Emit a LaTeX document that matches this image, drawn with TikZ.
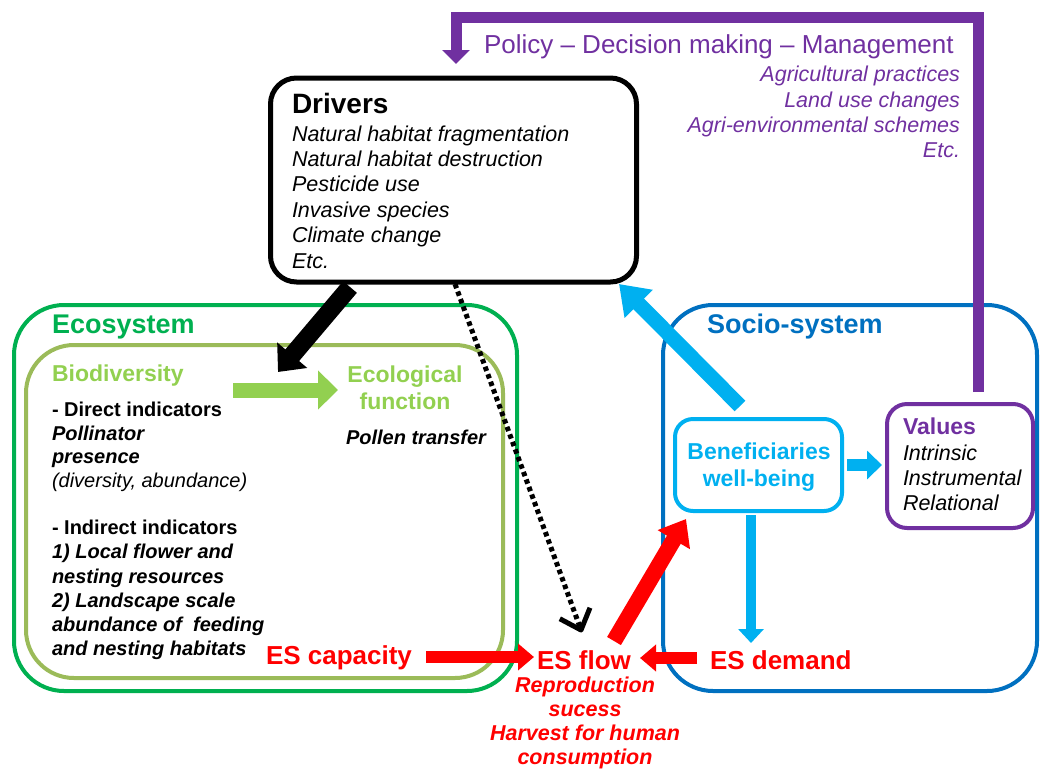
\documentclass[tikz,border=0pt]{standalone}
\usepackage{fontspec}
\setmainfont{Liberation Sans}
\usetikzlibrary{arrows.meta,calc}
\definecolor{cpurple}{HTML}{7030A0}
\definecolor{cgreen}{HTML}{00B050}
\definecolor{colive}{HTML}{9BBB59}
\definecolor{clgreen}{HTML}{92D050}
\definecolor{cblue}{HTML}{0070C0}
\definecolor{clblue}{HTML}{00B0F0}
\definecolor{cred}{HTML}{FF0000}
\newcommand{\fsz}[2]{\fontsize{#1}{#2}\selectfont}
\tikzset{
  lbl/.style={inner sep=0pt, outer sep=0pt},
  boxnode/.style={draw, rounded corners=#1, inner sep=0pt, outer sep=0pt},
  blockarrow/.style n args={3}{line width=#1, -{Triangle[length=#2, width=#3]}},
}
\begin{document}
\begin{tikzpicture}[x=1pt, y=-1pt]
\useasboundingbox (0,0) rectangle (1040,771);

% ---- boxes ----
\node[boxnode=26pt, line width=5pt, draw=black, minimum width=366pt, minimum height=204pt] (drv) at (453.5,180) {};
\node[boxnode=50pt, line width=4pt, draw=cgreen, minimum width=503pt, minimum height=386pt] (eco) at (265.5,498) {};
\node[boxnode=48pt, line width=4pt, draw=colive, minimum width=477pt, minimum height=333pt] (bio) at (264.5,511.5) {};
\node[boxnode=50pt, line width=4pt, draw=cblue, minimum width=374pt, minimum height=386pt] (soc) at (850,498) {};
\node[boxnode=18pt, line width=4pt, draw=clblue, minimum width=167pt, minimum height=92pt] (ben) at (758.5,465) {};
\node[boxnode=20pt, line width=4pt, draw=cpurple, minimum width=146pt, minimum height=124pt] (val) at (960,466) {};

% ---- texts ----
\node[lbl, anchor=west, text=cpurple, font=\fsz{26}{30}] (pol) at (484,47) {Policy – Decision making – Management};
\node[lbl, anchor=east, align=right, text=cpurple, font=\fsz{21.5}{25.3}\itshape] (polist) at (960,112)
  {Agricultural practices\\Land use changes\\Agri-environmental schemes\\Etc.};

\node[lbl, anchor=west, font=\fsz{28}{32}\bfseries] (drvt) at (292,103) {Drivers};
\node[lbl, anchor=west, align=left, font=\fsz{21.5}{25.4}\itshape] (drvl) at (292,197)
  {Natural habitat fragmentation\\Natural habitat destruction\\Pesticide use\\Invasive species\\Climate change\\Etc.};

\node[lbl, anchor=west, text=cgreen, font=\fsz{27}{30}\bfseries] (ecot) at (52,327) {Ecosystem};
\node[lbl, anchor=west, text=clgreen, font=\fsz{23}{27}\bfseries] (biot) at (52,376) {Biodiversity};
\node[lbl, align=center, text=clgreen, font=\fsz{23}{27}\bfseries] (ecf) at (405,388) {Ecological\\function};
\node[lbl, anchor=west, font=\fsz{20}{24}\bfseries\itshape] (pollen) at (346,437) {Pollen transfer};
\node[lbl, anchor=west, align=left, font=\fsz{20}{23.5}] (direct) at (52,447)
  {\textbf{- Direct indicators}\\\textbf{\textit{Pollinator}}\\\textbf{\textit{presence}}\\\textit{(diversity, abundance)}};
\node[lbl, anchor=west, align=left, font=\fsz{20}{24.2}] (indirect) at (52,590)
  {\textbf{- Indirect indicators}\\\textbf{\textit{1) Local flower and}}\\\textbf{\textit{nesting resources}}\\\textbf{\textit{2) Landscape scale}}\\\textbf{\textit{abundance of \ feeding}}\\\textbf{\textit{and nesting habitats}}};

\node[lbl, anchor=west, text=cred, font=\fsz{26}{30}\bfseries] (cap) at (266,658) {ES capacity};
\node[lbl, anchor=west, text=cred, font=\fsz{26}{30}\bfseries] (flow) at (537,660) {ES flow};
\node[lbl, anchor=west, text=cred, font=\fsz{26}{30}\bfseries] (dem) at (710,660) {ES demand};
\node[lbl, align=center, text=cred, font=\fsz{21.5}{24.2}\bfseries\itshape] (flowl) at (585,723)
  {Reproduction\\sucess\\Harvest for human\\consumption};

\node[lbl, anchor=west, text=cblue, font=\fsz{27}{30}\bfseries] (soct) at (707,327) {Socio-system};
\node[lbl, align=center, text=clblue, font=\fsz{23}{27}\bfseries] (bent) at (759,467) {Beneficiaries\\well-being};
\node[lbl, anchor=west, text=cpurple, font=\fsz{23}{27}\bfseries] (valt) at (903,426) {Values};
\node[lbl, anchor=west, align=left, font=\fsz{21.5}{25}\itshape] (vall) at (903,478) {Intrinsic\\Instrumental\\Relational};

% ---- connectors ----
\coordinate (pA) at (978,392);
\coordinate (pB) at (456,17);
\coordinate (pC) at (456,64);
\draw[cpurple, line width=11pt, line join=miter, -{Triangle[length=14pt, width=27pt]}] (pA) |- (pB) -- (pC);

\coordinate (bk1) at (350,287);
\coordinate (bk2) at (278,372);
\draw[black, blockarrow={18pt}{22pt}{38pt}] (bk1) -- (bk2);

\coordinate (gr1) at (233,390);
\coordinate (gr2) at (338,390);
\draw[clgreen, blockarrow={15pt}{20pt}{38pt}] (gr1) -- (gr2);

\coordinate (dt1) at (455,284);
\coordinate (dt2) at (581,630);
\coordinate (ah1) at ($(dt2)!24pt!42:(dt1)$);
\coordinate (ah2) at ($(dt2)!24pt!-42:(dt1)$);
\draw[black, line width=5pt, dash pattern=on 4.5pt off 3.5pt] (dt1) -- (dt2);
\draw[black, line width=5pt, line join=round, line cap=butt] (ah1) -- (dt2) -- (ah2);

\coordinate (rc1) at (426,657);
\coordinate (rc2) at (534,657);
\draw[cred, blockarrow={12pt}{16pt}{26pt}] (rc1) -- (rc2);

\coordinate (rd1) at (697,658);
\coordinate (rd2) at (640,658);
\draw[cred, blockarrow={12pt}{16pt}{26pt}] (rd1) -- (rd2);

\coordinate (rf1) at (614,641);
\coordinate (rf2) at (686,519);
\draw[cred, blockarrow={16pt}{24pt}{36pt}] (rf1) -- (rf2);

\coordinate (lb1) at (740,406);
\coordinate (lb2) at (619,284);
\draw[clblue, blockarrow={15pt}{28pt}{38pt}] (lb1) -- (lb2);

\coordinate (ld1) at (751,515);
\coordinate (ld2) at (751,643);
\draw[clblue, blockarrow={10pt}{14pt}{25pt}] (ld1) -- (ld2);

\coordinate (lv1) at (847,465);
\coordinate (lv2) at (882,465);
\draw[clblue, blockarrow={12pt}{15pt}{28pt}] (lv1) -- (lv2);
\end{tikzpicture}
\end{document}
